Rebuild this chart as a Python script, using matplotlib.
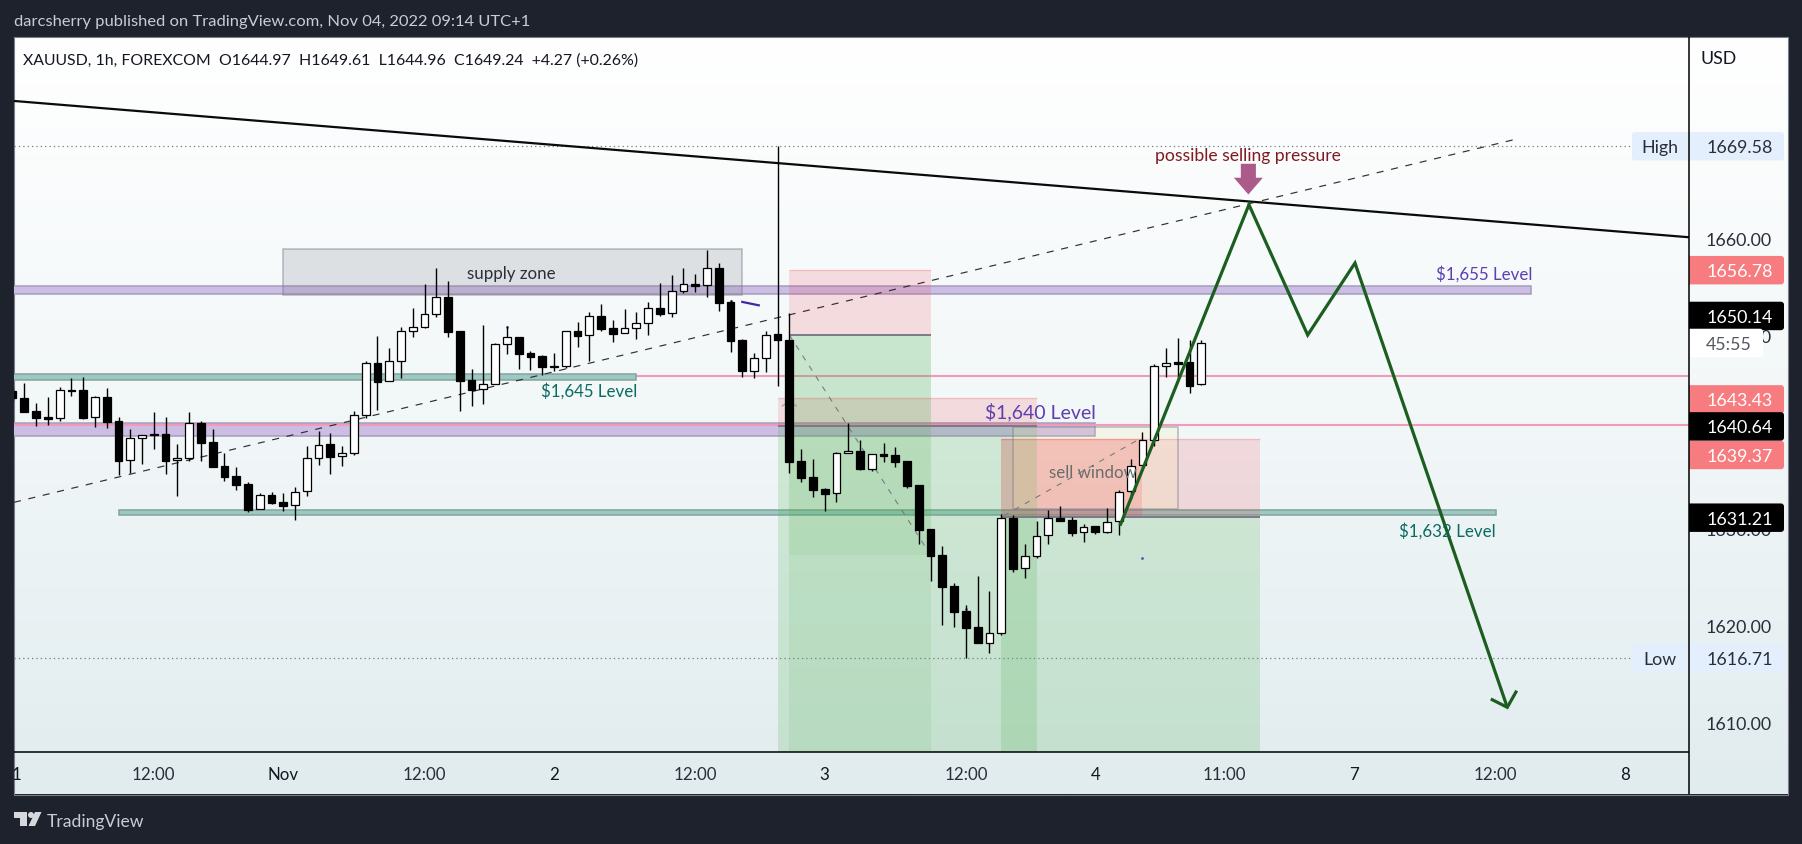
import numpy as np
import matplotlib
matplotlib.use("Agg")
import matplotlib.pyplot as plt
from matplotlib.patches import Rectangle, Polygon, Circle, FancyBboxPatch

plt.rcParams['font.family'] = ['Lato', 'DejaVu Sans']

opens = [1644.30,1643.54,1642.20,1641.57,1641.47,1644.36,1644.36,1641.57,1643.64,1641.16,
 1637.13,1639.41,1639.82,1639.82,1637.13,1637.34,1640.95,1638.99,1636.51,1635.48,
 1634.65,1632.07,1633.52,1632.79,1632.48,1633.93,1637.34,1638.79,1637.54,1637.86,
 1641.85,1647.15,1645.29,1647.43,1650.46,1650.94,1652.22,1653.97,1650.46,1645.40,
 1644.47,1645.06,1649.12,1649.84,1648.22,1647.88,1646.83,1646.85,1650.46,1650.05,
 1652.01,1650.77,1650.25,1650.77,1651.29,1652.84,1652.32,1654.59,1655.32,1655.21,
 1656.97,1653.46,1649.53,1646.40,1647.67,1650.15,1649.53,1637.03,1635.38,1634.14,
 1633.73,1637.86,1638.07,1636.28,1637.76,1637.65,1637.03,1634.55,1630.01,1627.32,
 1624.12,1621.54,1619.89,1618.30,1619.33,1631.15,1625.98,1627.22,1629.39,1631.15,
 1630.94,1629.70,1630.32,1629.77,1630.84,1633.94,1636.62,1639.20,1646.85,1647.30,
 1647.26,1644.97]
highs = [1644.67,1645.09,1643.06,1643.64,1644.67,1645.60,1645.71,1643.74,1644.57,1641.57,
 1640.37,1639.78,1642.09,1641.57,1638.82,1642.09,1641.16,1640.37,1637.89,1636.44,
 1634.86,1633.76,1633.83,1633.76,1634.34,1638.61,1640.16,1639.96,1638.61,1642.19,
 1647.36,1649.98,1648.74,1650.90,1652.84,1655.35,1657.00,1655.66,1650.46,1646.54,
 1651.12,1649.22,1651.05,1649.84,1648.40,1648.05,1648.22,1650.46,1651.39,1652.46,
 1653.29,1651.63,1652.77,1652.46,1653.49,1655.45,1656.28,1657.00,1656.38,1658.86,
 1657.52,1653.70,1649.67,1648.22,1650.46,1669.58,1652.36,1638.31,1637.28,1634.25,
 1637.96,1640.99,1639.24,1637.76,1638.89,1638.48,1637.03,1634.55,1630.01,1628.25,
 1624.43,1622.23,1625.19,1623.60,1631.56,1631.49,1628.49,1630.84,1631.97,1632.42,
 1631.25,1630.53,1630.32,1632.18,1634.04,1637.24,1640.03,1647.09,1648.74,1649.78,
 1649.57,1649.61]
lows = [1643.30,1642.16,1640.71,1640.82,1641.23,1643.81,1641.44,1640.61,1640.51,1635.62,
 1635.86,1636.79,1638.34,1635.76,1633.48,1637.10,1637.10,1636.48,1635.03,1634.10,
 1631.83,1632.07,1632.62,1631.93,1631.00,1633.48,1636.68,1635.76,1636.58,1637.68,
 1641.54,1642.37,1645.29,1645.67,1649.91,1650.81,1651.91,1649.91,1642.27,1642.78,
 1642.99,1645.06,1648.12,1646.57,1646.50,1645.95,1646.40,1646.71,1648.88,1647.43,
 1650.46,1649.39,1650.25,1649.70,1650.12,1652.05,1651.98,1654.42,1654.56,1654.04,
 1652.56,1648.36,1645.78,1645.67,1646.29,1644.85,1635.86,1634.93,1633.38,1631.94,
 1632.87,1637.86,1636.14,1636.07,1637.00,1636.45,1634.25,1628.53,1624.71,1620.16,
 1619.95,1616.71,1618.30,1617.27,1619.13,1625.64,1624.98,1627.08,1628.53,1630.91,
 1629.36,1628.74,1629.56,1629.67,1629.46,1633.18,1636.59,1638.65,1645.78,1645.54,
 1644.13,1644.96]
closes = [1643.54,1642.16,1641.54,1641.44,1644.36,1644.33,1641.54,1643.64,1641.13,1637.10,
 1639.41,1639.78,1639.78,1637.10,1637.34,1640.95,1638.96,1636.48,1635.45,1634.62,
 1632.04,1633.52,1632.76,1632.45,1633.90,1637.34,1638.75,1637.51,1637.86,1641.85,
 1647.15,1645.26,1647.43,1650.46,1650.94,1652.22,1653.97,1650.43,1645.37,1644.44,
 1645.06,1649.12,1649.84,1648.15,1647.84,1646.81,1646.79,1650.46,1650.01,1652.01,
 1650.74,1650.22,1650.77,1651.29,1652.84,1652.29,1654.59,1655.32,1655.18,1656.97,
 1653.42,1649.50,1646.40,1647.67,1650.12,1649.53,1637.00,1635.35,1634.11,1633.69,
 1637.86,1638.07,1636.28,1637.76,1637.62,1637.00,1634.52,1629.98,1627.29,1624.09,
 1621.50,1619.85,1618.30,1619.33,1631.15,1625.95,1627.22,1629.36,1631.15,1630.91,
 1629.67,1630.29,1629.77,1630.80,1633.90,1636.59,1639.20,1646.85,1647.16,1647.13,
 1644.85,1649.24]

time_ticks = [0.3,12,23,35,46,58,69,81,92,103,114,126,137]
time_labels = ['1','12:00','Nov','12:00','2','12:00','3','12:00','4','11:00','7','12:00','8']
price_ticks = [1660,1650,1640,1630,1620,1610]

level_zones = {  # x0, x1, low, high, face, edge
 'p655': (0, 129, 1654.27, 1655.11, '#cbbde4', '#a69cbc'),
 'p640': (0, 92, 1639.68, 1640.96, '#cbbde4', '#a69cbc'),
 't645': (0, 53, 1645.43, 1646.05, '#9fc8c2', '#7fa5a0'),
 't632': (9, 126, 1631.53, 1631.97, '#9fc8c2', '#7fa5a0'),
}
high_val, low_val = 1669.58, 1616.71
pink_levels = [1645.88, 1640.78]
reds = [(66, 78, 1650.08, 1656.83, .15), (65, 87, 1640.72, 1643.54, .15),
        (84, 106, 1631.25, 1639.34, .15), (84, 96, 1631.25, 1639.34, .18)]
greens = [(65, 87, None, 1640.72, .2), (84, 106, None, 1631.25, .2),
          (66, 78, 1640.72, 1650.08, .26), (66, 78, None, 1640.72, .114),
          (66, 78, 1627.36, 1640.72, .085)]
entries = [(66, 78, 1650.08), (65, 87, 1640.72), (84, 106, 1631.25)]
trend_x, trend_y = [0.12, 142.44], [1674.26, 1660.18]
dash_x, dash_y = [0.12, 127.8], [1632.80, 1670.33]
proj_x = [94.09, 105.05, 110.04, 114.06, 127.0]
proj_y = [1630.38, 1663.54, 1650.08, 1657.52, 1611.62]
head_x = [125.6, 127.0, 127.8]
head_y = [1612.48, 1611.62, 1613.34]
tags = [('1656.78', 1656.78, '#f77c80', 'white'), ('1650.14', 1652.05, '#000000', 'white'),
        ('1643.43', 1643.43, '#f77c80', 'white'), ('1639.37', 1637.69, '#f77c80', 'white'),
        ('1640.64', 1640.64, '#000000', 'white'), ('1631.21', 1631.21, '#000000', 'white')]

W, H = 1802, 845
BG = '#1e222d'
fig = plt.figure(figsize=(W/100, H/100), dpi=100, facecolor=BG)
def rect(l, t, r, b):
    return [l/W, (H-b)/H, (r-l)/W, (b-t)/H]

L, T, R, MID, BOT, RR = 14, 38, 1689, 752.5, 795, 1787.5
chrome = fig.add_axes([0, 0, 1, 1], zorder=0)
chrome.set_xlim(0, W); chrome.set_ylim(H, 0); chrome.axis('off')
chrome.imshow(np.linspace(0, 1, 256)[:, None], extent=[L, RR, BOT, T], aspect='auto',
              cmap=matplotlib.colors.LinearSegmentedColormap.from_list('g', ['#ffffff', '#f2f7f8', '#e1ecef']), zorder=0)
chrome.set_xlim(0, W); chrome.set_ylim(H, 0)
chrome.add_patch(Rectangle((L-.5, T-.5), RR-L+1, BOT-T+1, fc='none', ec='#7b7f8a', lw=0.8, zorder=1))
chrome.text(14, 22, 'darcsherry published on TradingView.com, Nov 04, 2022 09:14 UTC+1', color='#c9ccd4', fontsize=11.85, va='center')
chrome.text(47, 822, 'TradingView', color='#c9ccd4', fontsize=12.6, va='center')
chrome.add_patch(Polygon([(14,813),(27,813),(27,827),(20,827),(20,819),(14,819)], fc='#d6d8de', ec='none'))
chrome.add_patch(Circle((31,816), 3, fc='#d6d8de', ec='none'))
chrome.add_patch(Polygon([(35,813),(41.5,813),(35,827),(28.5,827)], fc='#d6d8de', ec='none'))

ymin = 1660 - (MID-240)/9.68
ymax = 1660 + (240-T)/9.68
ax = fig.add_axes(rect(L, T, R, MID), zorder=2, facecolor='none')
ax.set_xlim(0.12, 142.44); ax.set_ylim(ymin, ymax)
ax.axis('off')
n = len(opens)
xs = np.arange(n)

for p in pink_levels:
    ax.plot([0.12, 142.44], [p, p], color='#f29bb8', lw=1.5, zorder=1 if p > 1642 else 2.6, solid_capstyle='butt')
for lv in [high_val, low_val]:
    ax.plot([0.12, 137.6], [lv, lv], color='#787b86', lw=0.9, ls=(0, (1, 2.5)), zorder=1)
for name, (x0, x1, lo, hi, fc, ec) in level_zones.items():
    ax.add_patch(Rectangle((x0, lo), x1-x0, hi-lo, fc=fc, ec=ec, lw=1.1, zorder=2))
ax.add_patch(Rectangle((23, 1654.21), 39, 4.76, fc=(0.47,0.48,0.53,0.2), ec=(0.47,0.48,0.53,0.5), lw=1.1, zorder=3))
for x0, x1, lo, hi, a in reds:
    ax.add_patch(Rectangle((x0, lo), x1-x0, hi-lo, fc=(0.95,0.21,0.27,a), ec='none', zorder=3))
    ax.plot([x0, x1], [hi, hi], color=(0.95,0.21,0.27,0.2), lw=1, zorder=3.1, solid_capstyle='butt')
for x0, x1, lo, hi, a in greens:
    b = ymin if lo is None else lo
    ax.add_patch(Rectangle((x0, b), x1-x0, hi-b, fc=(0.30,0.69,0.31,a), ec='none', zorder=3))
for x0, x1, e in entries:
    ax.plot([x0, x1], [e, e], color='#787b86', lw=1.4, zorder=3.1, solid_capstyle='butt')
ax.add_patch(Rectangle((85, 1632.07), 14, 8.55, fc=(1,0.93,0.55,0.14), ec=(0.47,0.48,0.53,0.5), lw=1.1, zorder=3.2))
ax.plot([66, 78], [1650.08, 1627.36], color='#787b86', lw=0.8, ls=(0, (5, 6)), zorder=3.2)
ax.plot([84.2, 95.7], [1631.4, 1639.3], color='#787b86', lw=0.8, ls=(0, (5, 6)), zorder=3.2)
ax.plot([65.4, 66, 66.6], [1642.75, 1643.26, 1642.75], color='#9a9c9a', lw=0.8, zorder=3.2)

ax.plot(trend_x, trend_y, color='#0a0a0a', lw=1.6, zorder=4, solid_capstyle='butt')
ax.plot(dash_x, dash_y, color='#2f2f33', lw=0.85, ls=(0, (6, 6.5)), zorder=4)
ax.plot([62.0, 63.4], [1653.5, 1653.15], color='#4527a0', lw=1.6, zorder=4)
for dx, dy in [(96.0, 1627.08), (42.0, 1650.9), (61.0, 1653.6), (81.0, 1621.8)]:
    ax.plot([dx], [dy], marker='o', ms=2, color='#5e4fb0', mec='none', zorder=4)

ax.vlines(xs, lows, highs, color='black', lw=1.0, zorder=5)
bottoms = np.minimum(opens, closes)
heights = np.abs(np.array(opens) - np.array(closes))
faces = ['black' if c < o else 'white' for o, c in zip(opens, closes)]
ax.bar(xs, heights, bottom=bottoms, width=0.66, color=faces, edgecolor='black', linewidth=0.9, zorder=6)

ax.plot(proj_x, proj_y, color='#1b5e20', lw=2.3, zorder=7, solid_joinstyle='miter', solid_capstyle='butt')
ax.plot(head_x, head_y, color='#1b5e20', lw=2.3, zorder=7, solid_joinstyle='miter', solid_capstyle='butt')

arrow_cx, arrow_top, arrow_sh, arrow_tip = 105.0, 1667.77, 1666.33, 1664.60
ax.add_patch(Polygon([(arrow_cx-.64,arrow_top),(arrow_cx+.64,arrow_top),(arrow_cx+.64,arrow_sh),(arrow_cx+1.23,arrow_sh),
                      (arrow_cx,arrow_tip),(arrow_cx-1.23,arrow_sh),(arrow_cx-.64,arrow_sh)],
                     fc='#ab5a8a', ec='none', zorder=7))

FS = 12.2
DY = 0.1   # text centre correction, in price units
def note(x, y, s, c, fs=FS):
    ax.text(x, y-DY, s, color=c, fontsize=fs, ha='center', va='center', zorder=8, clip_on=False)
note(42.4, 1656.55, 'supply zone', '#2a2e39')
note(49.0, 1644.5, '$1,645 Level', '#0b6b60')
note(87.3, 1642.31, '$1,640 Level', '#5e3fb0', 14)
note(125.0, 1656.55, '$1,655 Level', '#5e3fb0')
note(121.9, 1630.07, '$1,632 Level', '#0b6b60')
note(91.8, 1636.0, 'sell window', '#6a6d6d')
note(105.0, 1668.74, 'possible selling pressure', '#801922', 12.6)
ax.text(0.9, 1678.55, 'XAUUSD, 1h, FOREXCOM  O1644.97  H1649.61  L1644.96  C1649.24  +4.27 (+0.26%)',
        color='#131722', fontsize=11.4, va='center', zorder=8)

at = fig.add_axes(rect(L, MID, R, BOT), zorder=2, facecolor='none')
at.set_xlim(ax.get_xlim()); at.set_ylim(0, 1); at.axis('off')
for t, s in zip(time_ticks, time_labels):
    at.text(t, 0.48, s, ha='center', va='center', fontsize=FS, color='#131722' if ':' not in s else '#2a2e39', clip_on=True)

ap = fig.add_axes(rect(R, T, RR-0.5, MID), zorder=3, facecolor='none')
ap.set_xlim(R, RR-0.5); ap.set_ylim(ax.get_ylim()); ap.axis('off')
for p in price_ticks:
    ap.text(1739, p-DY, f'{p:.2f}', ha='center', va='center', fontsize=FS+0.6, color='#2a2e39', zorder=1)
ap.text(1719, 1660+(240-58)/9.68-DY, 'USD', ha='center', va='center', fontsize=FS+0.6, color='#131722')

def tag(text, y, fc, tc, x0=R-4, x1=1784, tx=1740, zo=2):
    ap.add_patch(FancyBboxPatch((x0, y-1.47), x1-x0, 2.94, boxstyle='round,pad=0,rounding_size=3',
                                mutation_aspect=1/9.68, fc=fc, ec='none', zorder=zo))
    ap.text(tx, y-DY, text, ha='center', va='center', fontsize=FS+0.6, color=tc, zorder=zo+0.1)
for name, v in [('High', high_val), ('Low', low_val)]:
    tag(f'{v:.2f}', v, '#e3effd', '#2a2e39')
    ax.add_patch(FancyBboxPatch((137.6, v-1.47), 6, 2.94, boxstyle='round,pad=0,rounding_size=0.25',
                                mutation_aspect=11.77/9.68, fc='#e3effd', ec='none', zorder=8))
    ax.text(139.95, v-DY, name, ha='center', va='center', fontsize=FS+0.6, color='#2a2e39', zorder=9)
for s, y, fc, tc in tags:
    tag(s, y, fc, tc)
tag('45:55', 1649.26, '#ffffff', '#555862', x1=1763, tx=1729, zo=3)

chrome2 = fig.add_axes([0, 0, 1, 1], zorder=4, facecolor='none')
chrome2.set_xlim(0, W); chrome2.set_ylim(H, 0); chrome2.axis('off')
chrome2.plot([R, R], [T, BOT], color='black', lw=1.1, solid_capstyle='butt')
chrome2.plot([L, R], [MID, MID], color='black', lw=1.1, solid_capstyle='butt')

fig.savefig('out.png', dpi=100, facecolor=BG)
